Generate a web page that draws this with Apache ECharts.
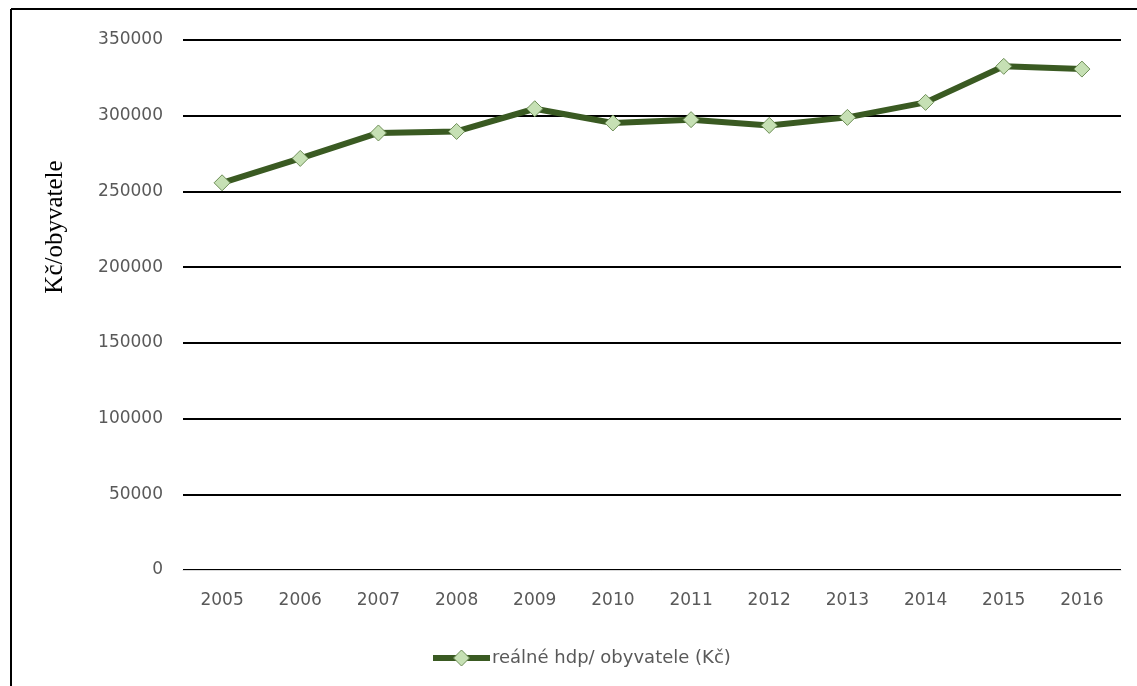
<!DOCTYPE html>
<html>
<head>
<meta charset="utf-8">
<script src="https://cdn.jsdelivr.net/npm/echarts@6/dist/echarts.min.js"></script>
<style>
  html, body { margin: 0; padding: 0; background: #ffffff; }
  #chart { width: 1137px; height: 686px; }
</style>
</head>
<body>
<div id="chart"></div>
<script>
// Real GDP per inhabitant (CZK), 2005–2016
const years = ['2005', '2006', '2007', '2008', '2009', '2010', '2011', '2012', '2013', '2014', '2015', '2016'];
const gdpPerCapita = [255700, 271800, 288600, 289600, 304600, 295200, 297400, 293600, 298900, 308800, 332600, 330800];
const seriesName = 'reálné hdp/ obyvatele (Kč)';
const yAxisTitle = 'Kč/obyvatele';

const labelFont = 'DejaVu Sans';
const labelColor = '#595959';
const lineColor = '#3a5a22';

const chart = echarts.init(document.getElementById('chart'), null, { renderer: 'canvas' });

chart.setOption({
  backgroundColor: '#ffffff',
  animation: false,
  grid: { left: 183, right: 16, top: 40, bottom: 116, containLabel: false },
  legend: {
    data: [seriesName],
    left: 425,
    top: 644,
    itemWidth: 57,
    itemHeight: 20,
    itemGap: 4,
    lineStyle: { width: 6, color: lineColor },
    itemStyle: { color: '#c6e0b4', borderColor: '#6f8f58', borderWidth: 1 },
    textStyle: { fontFamily: labelFont, fontSize: 18, color: labelColor, padding: [0, 0, 0, -3] }
  },
  xAxis: {
    type: 'category',
    data: years,
    boundaryGap: true,
    axisLine: { show: true, lineStyle: { color: '#d9d9d9', width: 1 } },
    axisTick: { show: false },
    axisLabel: { fontFamily: labelFont, fontSize: 17, color: labelColor, margin: 22 },
    splitLine: { show: false }
  },
  yAxis: {
    type: 'value',
    min: 0,
    max: 350000,
    interval: 50000,
    axisLine: { show: false },
    axisTick: { show: false },
    axisLabel: {
      fontFamily: labelFont, fontSize: 17, color: labelColor, margin: 20,
      formatter: (v) => String(v)
    },
    splitLine: { show: true, lineStyle: { color: '#000000', width: 2 } }
  },
  series: [{
    name: seriesName,
    type: 'line',
    data: gdpPerCapita,
    symbol: 'diamond',
    symbolSize: 16,
    showAllSymbol: true,
    lineStyle: { color: lineColor, width: 6 },
    itemStyle: { color: '#c6e0b4', borderColor: '#6f8f58', borderWidth: 1 },
    z: 3
  }],
  graphic: [
    // outer frame (top and left edges)
    { type: 'line', shape: { x1: 11, y1: 9, x2: 1137, y2: 9 }, style: { stroke: '#000', lineWidth: 2 }, silent: true },
    { type: 'line', shape: { x1: 11, y1: 9, x2: 11, y2: 686 }, style: { stroke: '#000', lineWidth: 2 }, silent: true },
    // vertical axis title
    {
      type: 'text',
      x: 55,
      y: 227,
      rotation: Math.PI / 2,
      style: {
        text: yAxisTitle,
        fontFamily: 'Liberation Serif',
        fontSize: 25,
        fill: '#000000',
        align: 'center',
        verticalAlign: 'middle'
      },
      silent: true
    }
  ]
});
</script>
</body>
</html>
